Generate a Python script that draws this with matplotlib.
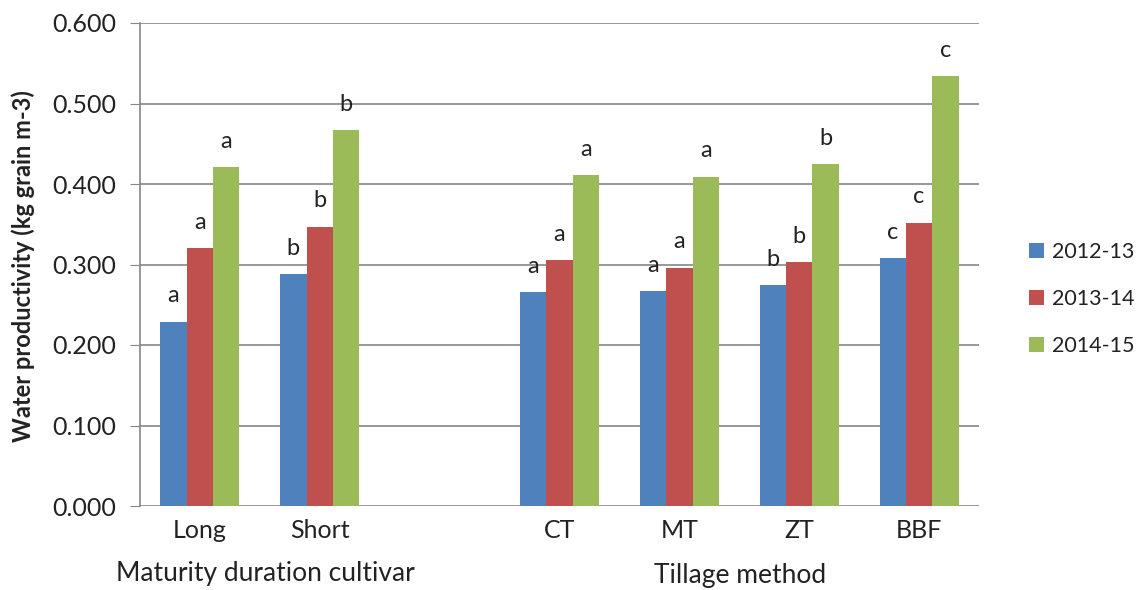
import matplotlib
matplotlib.use("Agg")
import matplotlib.pyplot as plt
import numpy as np

categories = ["Long", "Short", "", "CT", "MT", "ZT", "BBF"]
series = ["2012-13", "2013-14", "2014-15"]
v2012 = [0.229, 0.288, np.nan, 0.266, 0.267, 0.274, 0.308]
v2013 = [0.320, 0.347, np.nan, 0.305, 0.296, 0.303, 0.352]
v2014 = [0.421, 0.467, np.nan, 0.411, 0.409, 0.425, 0.534]
letters = ["a", "b", "", "a", "a", "b", "c"]
group_labels = ["Maturity duration cultivar", "Tillage method"]
yticks = [0.0, 0.1, 0.2, 0.3, 0.4, 0.5, 0.6]

colors = ["#4F81BD", "#C0504D", "#9BBB59"]
plt.rcParams['font.family'] = ['Lato', 'DejaVu Sans']

fig = plt.figure(figsize=(11.46, 5.90), dpi=100)
ax = fig.add_axes([140/1146, 1-506/590, (979-140)/1146, (506-23)/590])

x = np.arange(len(categories))
w = 0.22
vals = [v2012, v2013, v2014]
for i, (s, v, c) in enumerate(zip(series, vals, colors)):
    xs = x + (i - 1) * w
    ax.bar(xs, v, width=w, color=c, label=s, zorder=3)
    for xi, vi, lt in zip(xs, v, letters):
        if lt and not np.isnan(vi):
            ax.annotate(lt, (xi, vi), xytext=(0, 11), textcoords="offset points",
                        ha="center", va="bottom", fontsize=17, color="#222222")

ax.set_xlim(-0.5, len(categories) - 0.5)
ax.set_ylim(0, 0.6)
ax.set_yticks(yticks)
ax.set_yticklabels([f"{t:.3f}" for t in yticks], fontsize=18, color="#222222")
ax.set_xticks(x)
ax.set_xticklabels(categories, fontsize=18, color="#222222")
ax.tick_params(axis="x", length=0, pad=9)
ax.tick_params(axis="y", length=7, color="#868686", pad=10)
ax.grid(axis="y", color="#868686", linewidth=1.2, zorder=0)
for sp in ["top", "right", "bottom"]:
    ax.spines[sp].set_visible(False)
ax.spines["left"].set_color("#868686")
ax.spines["left"].set_linewidth(1.2)

fig.text(23/1146, 1-266/590, "Water productivity (kg grain m-3)", rotation=90,
         ha="center", va="center", fontsize=17, fontweight="bold", color="#222222")

fig.text(265/1146, 1-573/590, group_labels[0], ha="center", va="center", fontsize=19, color="#222222")
fig.text(740/1146, 1-575/590, group_labels[1], ha="center", va="center", fontsize=19, color="#222222")

leg = ax.legend(loc="center left", bbox_to_anchor=((1029-140)/839, (506-299)/483), frameon=False,
                fontsize=15.5, handlelength=0.7, handleheight=0.7, labelspacing=1.25,
                handletextpad=0.35, borderaxespad=0, borderpad=0)
for t in leg.get_texts():
    t.set_color("#222222")

fig.savefig("out.png", dpi=100)
